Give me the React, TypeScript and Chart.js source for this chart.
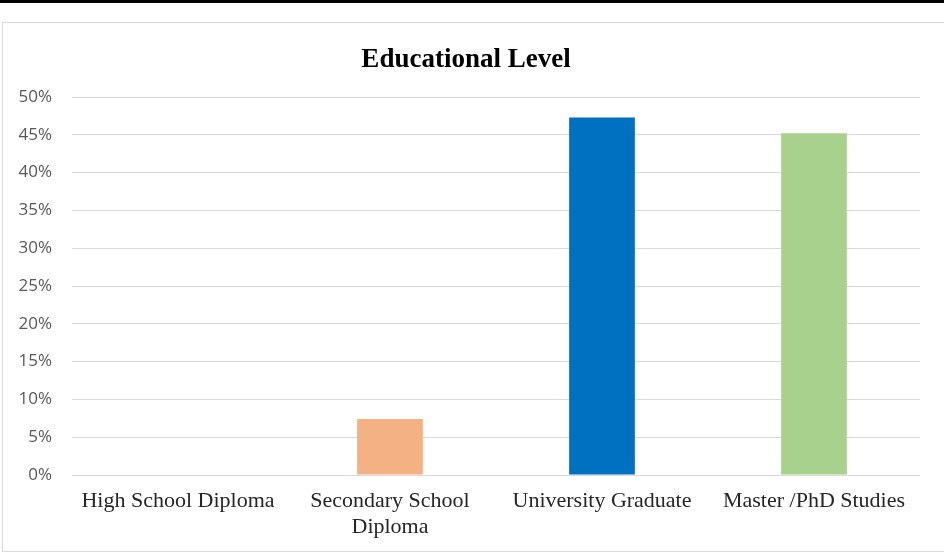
import React, { useEffect, useRef } from "react";
import { Chart, registerables } from "chart.js";

Chart.register(...registerables);

const categories: (string | string[])[] = [
  "High School Diploma",
  ["Secondary School", "Diploma"],
  "University Graduate",
  "Master /PhD Studies",
];
const values: number[] = [0, 7.4, 47.3, 45.2];
const barColors: string[] = ["#4472C4", "#F4B183", "#0070C0", "#A9D18E"];
const yTicks: number[] = [0, 5, 10, 15, 20, 25, 30, 35, 40, 45, 50];
const titleText = "Educational Level";

export default function App() {
  const canvasRef = useRef<HTMLCanvasElement | null>(null);

  useEffect(() => {
    document.body.style.margin = "0";
    const canvas = canvasRef.current;
    if (!canvas) return;
    const chart = new Chart(canvas, {
      type: "bar",
      data: {
        labels: categories,
        datasets: [
          {
            data: values,
            backgroundColor: barColors,
            borderWidth: 0,
            categoryPercentage: 1,
            barPercentage: 0.31,
          },
        ],
      },
      options: {
        responsive: false,
        animation: false,
        devicePixelRatio: 1,
        layout: { padding: { top: 32, right: 24, left: 12, bottom: 0 } },
        plugins: {
          legend: { display: false },
          tooltip: { enabled: false },
          title: {
            display: true,
            text: titleText,
            color: "#000000",
            font: { family: "'Liberation Serif', 'Times New Roman', serif", size: 27, weight: "bold" },
            padding: { top: 12, bottom: 20.6 },
          },
        },
        scales: {
          x: {
            grid: { display: false },
            border: { display: false },
            ticks: {
              color: "#262626",
              font: { family: "'Liberation Serif', 'Times New Roman', serif", size: 22, lineHeight: 1.15 },
              padding: 6,
              maxRotation: 0,
              autoSkip: false,
            },
            afterFit: (scale: any) => {
              scale.height = 77;
            },
          },
          y: {
            min: 0,
            max: 50,
            afterBuildTicks: (scale: any) => {
              scale.ticks = yTicks.map((v) => ({ value: v }));
            },
            grid: { color: "#D9D9D9", lineWidth: 1, drawTicks: false },
            border: { display: false },
            ticks: {
              color: "#595959",
              font: { family: "'Open Sans', sans-serif", size: 17 },
              padding: 20,
              callback: (v: any) => v + "%",
            },
            afterFit: (scale: any) => {
              scale.width = 60;
            },
          },
        },
      },
    });
    return () => chart.destroy();
  }, []);

  return (
    <div style={{ position: "relative", width: 944, height: 552, overflow: "hidden", background: "#fff" }}>
      <div style={{ position: "absolute", left: 0, top: 0, width: 944, height: 3, background: "#000" }} />
      <div
        style={{
          position: "absolute",
          left: 2,
          top: 22,
          width: 960,
          height: 528,
          border: "1px solid #D9D9D9",
        }}
      />
      <canvas ref={canvasRef} width={944} height={552} style={{ position: "absolute", left: 0, top: 0 }} />
    </div>
  );
}
